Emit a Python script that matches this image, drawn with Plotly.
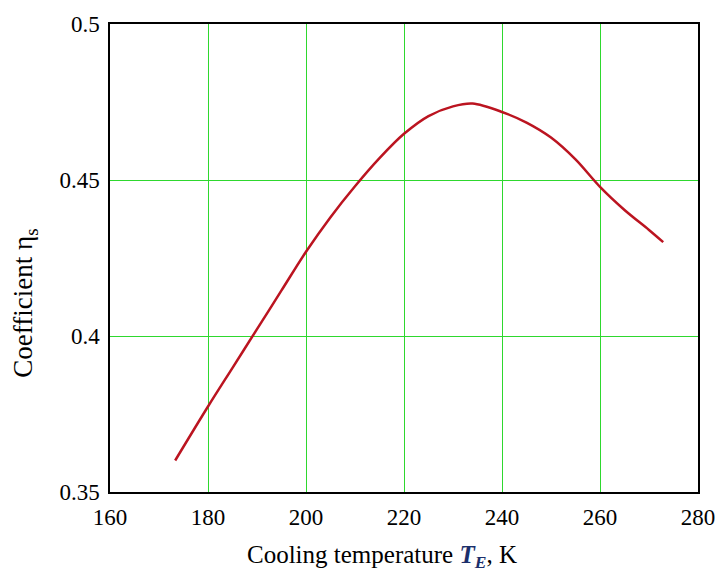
import plotly.graph_objects as go

# Cooling temperature T_E, K
temperature = [173.3, 180, 185, 190, 195, 200, 205, 210, 215, 220, 225, 230, 234,
               240, 245, 250, 255, 260, 265, 270, 272.9]
# Coefficient eta_s
eta_s = [0.3601, 0.3774, 0.3898, 0.4022, 0.4146, 0.4270, 0.4381, 0.4480, 0.4570,
         0.4648, 0.4705, 0.4736, 0.4745, 0.4718, 0.4684, 0.4636, 0.4566, 0.4478,
         0.4404, 0.4340, 0.4301]

x_ticks = [160, 180, 200, 220, 240, 260, 280]
y_ticks = [0.35, 0.4, 0.45, 0.5]
y_tick_text = ["0.35", "0.4", "0.45", "0.5"]

font_family = "Liberation Serif, Times New Roman, serif"
grid_green = "#2ed82e"

fig = go.Figure()
fig.add_trace(go.Scatter(
    x=temperature, y=eta_s, mode="lines",
    line=dict(color="#bb1420", width=2.5, shape="spline", smoothing=0.9),
    showlegend=False, hoverinfo="skip"))

fig.update_layout(
    width=727, height=573,
    margin=dict(l=110, r=23, t=17, b=81),
    paper_bgcolor="white", plot_bgcolor="white",
    font=dict(family=font_family, size=23, color="black"),
    xaxis=dict(range=[160, 280], tickvals=x_ticks, showgrid=True,
               gridcolor=grid_green, gridwidth=1, zeroline=False,
               showline=True, linecolor="black", linewidth=1.5, mirror=True,
               ticks="", ticklabelstandoff=4,
               tickfont=dict(family=font_family, size=23, color="black")),
    yaxis=dict(range=[0.35, 0.5], tickvals=y_ticks, ticktext=y_tick_text, showgrid=True,
               gridcolor=grid_green, gridwidth=1, zeroline=False,
               showline=True, linecolor="black", linewidth=1.5, mirror=True,
               ticks="", ticklabelstandoff=4,
               tickfont=dict(family=font_family, size=23, color="black")),
    annotations=[
        dict(text="Cooling temperature <b><i><span style='color:#1c2f6b'>T</span></i></b>"
                  "<sub><b><i><span style='color:#1c2f6b'>E</span></i></b></sub>, K",
             xref="paper", yref="paper", x=(385 - 110) / 594, y=-(557 - 492) / 475,
             xanchor="center", yanchor="middle", showarrow=False,
             font=dict(family=font_family, size=25, color="black")),
        dict(text="Coefficient η<sub>s</sub>", textangle=-90,
             xref="paper", yref="paper", x=-(110 - 24) / 594, y=(492 - 300) / 475,
             xanchor="center", yanchor="middle", showarrow=False,
             font=dict(family=font_family, size=27, color="black")),
    ],
)

fig.write_html("out.html")
